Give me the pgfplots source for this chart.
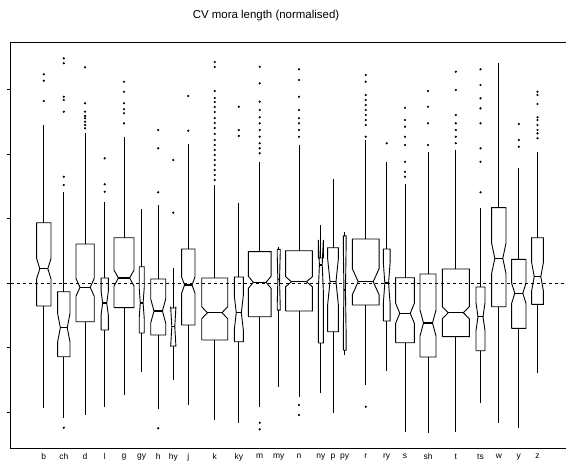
\documentclass[border=0pt]{standalone}
\usepackage{fontspec}
\setmainfont{Liberation Sans}
\usepackage{pgfplots}
\pgfplotsset{compat=1.18}

% notched box: x, width, lower whisker, q1, notch low, median, notch high, q3, upper whisker
\newcommand{\nbox}[9]{%
  \pgfmathsetmacro\xl{#1-#2/2}\pgfmathsetmacro\xr{#1+#2/2}%
  \pgfmathsetmacro\xnl{#1-0.28*#2}\pgfmathsetmacro\xnr{#1+0.28*#2}%
  \edef\doit{%
    \noexpand\addplot[bx] coordinates {(\xl,#4) (\xl,#5) (\xnl,#6) (\xl,#7) (\xl,#8) (\xr,#8) (\xr,#7) (\xnr,#6) (\xr,#5) (\xr,#4) (\xl,#4)};
    \noexpand\addplot[bx, line width=1.2bp] coordinates {(\xnl,#6) (\xnr,#6)};
    \noexpand\addplot[bx] coordinates {(#1,#8) (#1,#9)};
    \noexpand\addplot[bx] coordinates {(#1,#4) (#1,#3)};
  }\doit}

\begin{document}
\begin{tikzpicture}
\useasboundingbox (0bp,0bp) rectangle (566bp,-463bp);
\node[font=\fontsize{11.5}{13}\selectfont] at (266bp,-16bp) {CV mora length (normalised)};
\begin{axis}[
    at={(10.7bp,-448bp)}, anchor=south west,
    scale only axis, width=556.3bp, height=405.3bp,
    xmin=10.7, xmax=567, ymin=-2.554, ymax=3.72,
    axis line style={line width=0.9bp},
    xtick={43.8,63.8,85.1,104.7,124,141.7,158.2,173.3,188.3,214.7,238.8,259.7,278.7,299,320.8,333,344.7,365.7,386.7,405,428,455.8,480.5,498.8,518.8,537.5},
    xticklabels={b,ch,d,l,g,gy,h,hy,j,k,ky,m,my,n,ny,p,py,r,ry,s,sh,t,ts,w,y,z},
    x tick style={draw=none},
    xticklabel style={font=\fontsize{8.5}{10}\selectfont, yshift=1.5bp},
    ytick={-2,-1,0,1,2,3}, yticklabels={},
    tick align=outside, tick pos=left,
    y tick style={line width=0.5bp, black}, major tick length=3.5bp,
    bx/.style={black, line width=0.9bp, mark=none},
  ]
\addplot[black, dashed, line width=0.5bp] coordinates {(10.7,0) (567,0)};

\nbox{43.8}{14.3}{-1.940}{-0.356}{0.066}{0.221}{0.376}{0.933}{2.446}
\nbox{63.8}{12.3}{-2.090}{-1.141}{-0.909}{-0.692}{-0.475}{-0.135}{1.413}
\nbox{85.1}{18.3}{-2.043}{-0.599}{-0.206}{-0.067}{0.072}{0.604}{2.322}
\nbox{104.7}{7.3}{-1.915}{-0.728}{-0.496}{-0.310}{-0.124}{0.077}{1.254}
\nbox{124}{20}{-1.734}{-0.382}{-0.047}{0.077}{0.201}{0.701}{2.265}
\nbox{141.7}{5}{-1.373}{-0.774}{-0.542}{-0.310}{-0.078}{0.252}{1.146}
\nbox{158.2}{15}{-1.955}{-0.805}{-0.619}{-0.433}{-0.248}{0.062}{1.207}
\nbox{173.3}{5.3}{-1.502}{-0.975}{-0.986}{-0.676}{-0.366}{-0.387}{0.232}
\nbox{188.3}{13.3}{-1.889}{-0.650}{-0.155}{-0.031}{0.093}{0.526}{2.152}
\nbox{214.7}{26}{-2.121}{-0.882}{-0.553}{-0.460}{-0.367}{0.077}{1.517}
\nbox{238.8}{9}{-2.172}{-0.909}{-0.723}{-0.460}{-0.197}{0.093}{1.238}
\nbox{259.7}{22.7}{-1.915}{-0.522}{-0.082}{0.011}{0.104}{0.485}{1.878}
\nbox{278.7}{3}{-1.605}{-0.420}{-0.350}{0.050}{0.450}{0.520}{0.560}
\nbox{299}{26.7}{-1.760}{-0.433}{-0.057}{0.020}{0.097}{0.500}{2.136}
\nbox{320.8}{5}{-1.707}{-0.929}{-0.108}{0.279}{0.666}{0.387}{0.898}
\nbox{333}{10.7}{-2.017}{-0.754}{-0.336}{0.020}{0.376}{0.546}{1.610}
\nbox{344.7}{2.7}{-1.115}{-1.040}{-0.728}{-0.108}{0.512}{0.730}{0.794}
\nbox{365.7}{26.7}{-1.579}{-0.341}{-0.180}{0.020}{0.220}{0.681}{2.214}
\nbox{386.7}{6.7}{-1.358}{-0.588}{-0.310}{0}{0.310}{0.526}{1.878}
\nbox{405}{18.7}{-2.302}{-0.924}{-0.624}{-0.469}{-0.314}{0.082}{1.533}
\nbox{428}{16}{-2.317}{-1.146}{-0.820}{-0.619}{-0.418}{0.139}{2.028}
\nbox{455.8}{27}{-2.311}{-0.831}{-0.553}{-0.460}{-0.367}{0.217}{2.059}
\nbox{480.5}{9}{-1.853}{-1.048}{-0.739}{-0.522}{-0.305}{-0.062}{1.161}
\nbox{498.8}{14.3}{-2.172}{-0.367}{0.150}{0.382}{0.614}{1.166}{3.406}
\nbox{518.8}{14.3}{-2.249}{-0.701}{-0.314}{-0.159}{-0.004}{0.367}{1.785}
\nbox{537.5}{11.7}{-1.398}{-0.330}{-0.119}{0.098}{0.315}{0.701}{2.033}

% outliers
\addplot[only marks, mark=*, mark size=0.9bp, black] coordinates {
 (43.8,3.231) (43.8,3.132) (43.8,2.817)
 (63.8,3.478) (63.8,3.401) (63.8,2.884) (63.8,2.833) (63.8,2.652) (63.8,1.646) (63.8,1.517) (63.8,-2.240)
 (85.1,3.339) (85.1,2.782) (85.1,2.652) (85.1,2.585) (85.1,2.550) (85.1,2.497) (85.1,2.446) (85.1,2.395)
 (104.7,1.930) (104.7,1.528) (104.7,1.413)
 (124,3.116) (124,2.961) (124,2.782) (124,2.689) (124,2.627) (124,2.472)
 (158.2,2.368) (158.2,2.085) (158.2,1.404) (158.2,-2.249)
 (173.3,1.904) (173.3,1.088)
 (188.3,2.895) (188.3,2.358)
 (214.7,3.421) (214.7,3.344) (214.7,2.972) (214.7,2.864) (214.7,2.802) (214.7,2.724) (214.7,2.647) (214.7,2.554) (214.7,2.477) (214.7,2.399) (214.7,2.307) (214.7,2.214) (214.7,2.136) (214.7,2.059) (214.7,1.981) (214.7,1.904) (214.7,1.827) (214.7,1.749) (214.7,1.672) (214.7,1.594)
 (238.8,2.729) (238.8,2.368) (238.8,2.276)
 (259.7,3.348) (259.7,3.091) (259.7,2.807) (259.7,2.678) (259.7,2.565) (259.7,2.472) (259.7,2.368) (259.7,2.265) (259.7,2.163) (259.7,2.085) (259.7,2.008) (259.7,-2.163) (259.7,-2.265)
 (299,3.308) (299,3.142) (299,2.884) (299,2.678) (299,2.550) (299,2.472) (299,2.368) (299,2.265) (299,-1.889) (299,-2.043)
 (365.7,3.220) (365.7,3.116) (365.7,2.910) (365.7,2.833) (365.7,2.755) (365.7,2.678) (365.7,2.601) (365.7,2.523) (365.7,2.446) (365.7,2.265) (365.7,-1.915)
 (386.7,2.163)
 (405,2.714) (405,2.523) (405,2.420) (405,2.265) (405,2.136) (405,1.878) (405,1.723) (405,1.646)
 (428,2.972) (428,2.729) (428,2.472) (428,2.136)
 (455.8,3.271) (455.8,2.988) (455.8,2.601) (455.8,2.472) (455.8,2.368) (455.8,2.265) (455.8,2.163)
 (480.5,3.308) (480.5,3.065) (480.5,2.859) (480.5,2.704) (480.5,2.472) (480.5,2.085) (480.5,1.878) (480.5,1.404)
 (518.8,2.461) (518.8,2.214) (518.8,2.110)
 (537.5,2.961) (537.5,2.910) (537.5,2.771) (537.5,2.565) (537.5,2.523) (537.5,2.446) (537.5,2.368) (537.5,2.317) (537.5,2.240)
};
\end{axis}
\end{tikzpicture}
\end{document}
